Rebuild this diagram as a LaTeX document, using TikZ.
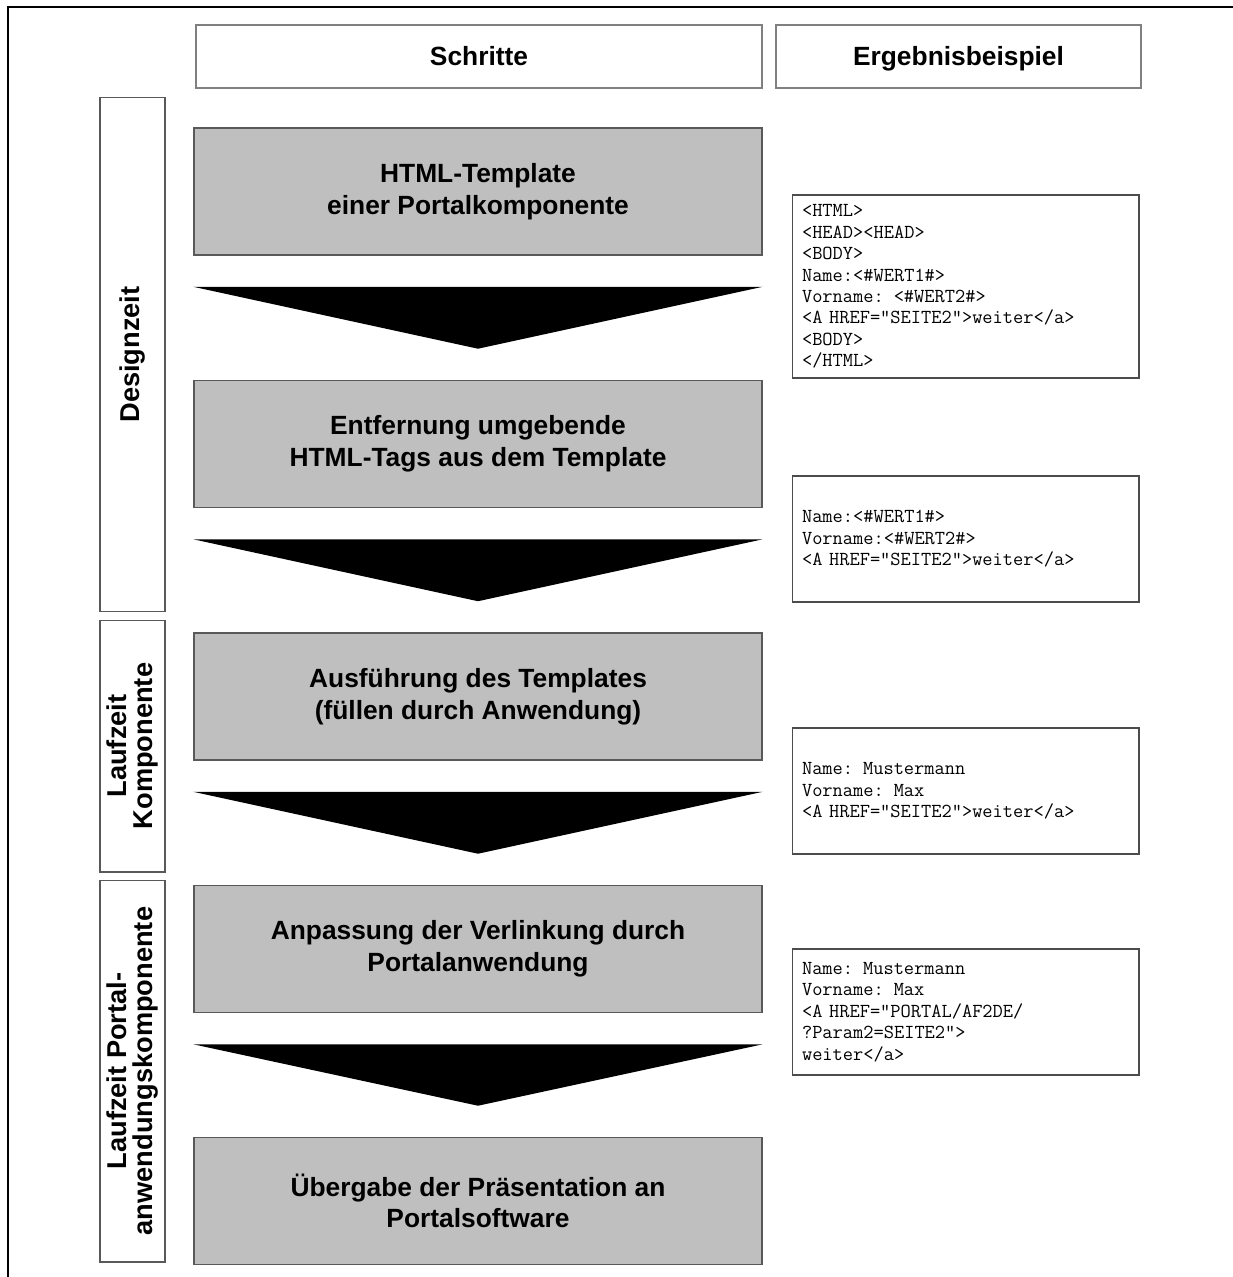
\documentclass[tikz,border=0pt]{standalone}
\usepackage{fontspec}
\setmainfont{Liberation Sans}
\usetikzlibrary{calc}

\begin{document}
\begin{tikzpicture}[
  x=0.02cm,
  y=-0.02cm,
  line join=miter,
  header/.style={draw=black!50,line width=0.7pt,minimum width=11.32cm,
    minimum height=1.26cm,text height=12.2pt,text depth=2pt,
    font=\fontsize{15}{18}\selectfont\bfseries},
  stepbox/.style={draw=black!65,line width=0.9pt,fill=black!25,
    minimum width=11.36cm,minimum height=2.54cm,align=center,
    font=\fontsize{15}{18}\selectfont\bfseries},
  phase/.style={draw=black!65,line width=0.6pt,rotate=90,inner sep=1pt,
    minimum height=1.3cm,align=center,
    font=\fontsize{15.5}{15}\selectfont\bfseries},
  codebox/.style={draw=black!70,line width=0.6pt,text width=6.54cm,
    inner xsep=0.2cm,align=left,
    font=\fontsize{11.3}{12.2}\selectfont\ttfamily},
  arrowhead/.style={fill=black}
]
  \useasboundingbox (0,0) rectangle (1233,1277);

  % Outer frame, only top and left edge on the page
  \draw[line width=1.7pt] (8,1277) -- (8,7) -- (1233,7);

  % Column headings
  \node[header] (schritte) at (479,56.5) {Schritte};
  \node[header,minimum width=7.3cm] (beispiel) at (958.5,56.5)
    {Ergebnisbeispiel};

  % Phases
  \node[phase,minimum width=10.3cm] (design) at (132.5,354.5) {Designzeit};
  \node[phase,minimum width=5.04cm] (laufkomp) at (132.5,746)
    {Laufzeit\\Komponente};
  \node[phase,minimum width=7.64cm] (laufportal) at (132.5,1071)
    {Laufzeit Portal-\\anwendungskomponente};

  % Steps
  \node[stepbox] (s1) at (478,191.5) {HTML-Template\\einer Portalkomponente};
  \node[stepbox] (s2) at (478,444)
    {Entfernung umgebende\\HTML-Tags aus dem Template};
  \node[stepbox] (s3) at (478,696.5)
    {Ausführung des Templates\\(füllen durch Anwendung)};
  \node[stepbox] (s4) at (478,949)
    {Anpassung der Verlinkung durch\\Portalanwendung};
  \node[stepbox] (s5) at (478,1201)
    {Übergabe der Präsentation an\\Portalsoftware};

  % Big arrows between the steps
  \foreach \a/\b in {s1/s2,s2/s3,s3/s4,s4/s5} {
    \fill[arrowhead] ($(\a.south west)+(0,31)$) -- ($(\a.south east)+(0,31)$)
      -- ($(\b.north)+(0,-31)$) -- cycle;
  }

  % Example results
  \node[codebox,minimum height=3.66cm] (c1) at (965.5,286.5)
    {<HTML>\\<HEAD><HEAD>\\<BODY>\\Name:<\#WERT1\#>\\Vorname: <\#WERT2\#>\\
     <A HREF="SEITE2">weiter</a>\\<BODY>\\</HTML>};
  \node[codebox,minimum height=2.52cm] (c2) at (965.5,539)
    {Name:<\#WERT1\#>\\Vorname:<\#WERT2\#>\\<A HREF="SEITE2">weiter</a>};
  \node[codebox,minimum height=2.52cm] (c3) at (965.5,791)
    {Name: Mustermann\\Vorname: Max\\<A HREF="SEITE2">weiter</a>};
  \node[codebox,minimum height=2.52cm] (c4) at (965.5,1012)
    {Name: Mustermann\\Vorname: Max\\<A HREF="PORTAL/AF2DE/\\
     ?Param2=SEITE2">\\weiter</a>};

\end{tikzpicture}
\end{document}
